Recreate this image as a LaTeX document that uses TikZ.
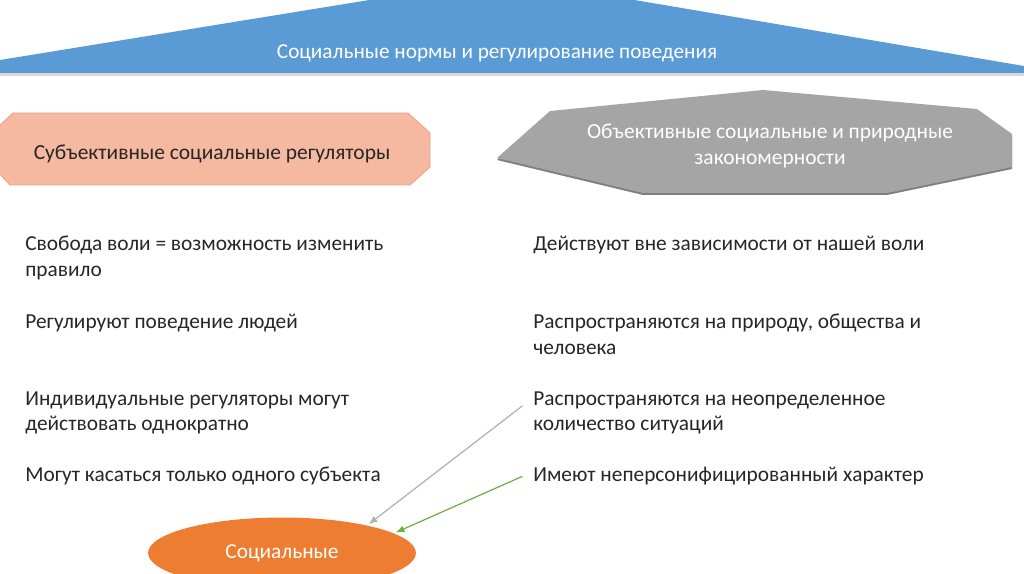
\documentclass[tikz,border=0pt]{standalone}
\usepackage{fontspec}
\setmainfont{Carlito}
\usetikzlibrary{positioning,arrows.meta,shapes.geometric}
\definecolor{hdrblue}{HTML}{5B9BD5}
\definecolor{subjfill}{HTML}{F5B8A0}
\definecolor{subjline}{HTML}{F0A286}
\definecolor{objfill}{HTML}{A5A5A5}
\definecolor{objshade}{HTML}{7F7F7F}
\definecolor{socorange}{HTML}{ED7D31}
\definecolor{bodytext}{HTML}{262626}
\definecolor{arrgray}{HTML}{B0B0B0}
\definecolor{arrgreen}{HTML}{70AD47}

\begin{document}
\begin{tikzpicture}[
  x=0.02cm, y=-0.02cm, >=Latex,
  item/.style={anchor=north west, align=left, inner sep=0pt, text=bodytext,
               font=\fontsize{12.15}{14.7}\selectfont},
  hdr/.style={align=center, inner sep=0pt, text=white,
              font=\fontsize{12.1}{14.7}\selectfont},
  lbl/.style={align=center, inner sep=0pt, font=\fontsize{12.2}{14.7}\selectfont},
  soc/.style={ellipse, fill=socorange, minimum width=5.36cm, minimum height=1.42cm,
              inner sep=0pt, text=white, font=\fontsize{12.15}{14}\selectfont},
  link/.style={-{Latex[length=5pt,width=4pt]}, line width=0.7pt, shorten >=1pt},
]
\clip (0,0) rectangle (1024,574);

% header banner
\fill[black!15] (0,62) -- (400,-3) -- (605,-3) -- (1024,68) -- (1024,76) -- (0,76) -- cycle;
\fill[hdrblue] (0,60) -- (400,-5) -- (605,-5) -- (1024,66) -- (1024,73) -- (0,73) -- cycle;
\node[hdr] (title) at (497,53) {Социальные нормы и регулирование поведения};

% two kinds of regulators
\fill[subjfill, draw=subjline, line width=0.5pt]
  (13,113) -- (408,113) -- (430,133) -- (430,167) -- (410,185) -- (10,185)
  -- (-2,172) -- (-2,127) -- cycle;
\node[lbl, text=bodytext] (subj) at (212,154) {Субъективные социальные регуляторы};

\fill[objshade] (497,160) -- (550,113) -- (763,92) -- (977,111) -- (1012,136)
  -- (1012,169) -- (887,195) -- (643,195) -- cycle;
\fill[objfill] (497,158) -- (550,111) -- (763,90) -- (977,109) -- (1012,134)
  -- (1012,167) -- (887,193) -- (643,193) -- cycle;
\node[lbl, text=white] (obj) at (770,146) {Объективные социальные и природные\\закономерности};

% left column
\node[item] (l1) at (25,236) {Свобода воли = возможность изменить\\правило};
\node[item] (l2) at (25,314) {Регулируют поведение людей};
\node[item] (l3) at (25,391) {Индивидуальные регуляторы могут\\действовать однократно};
\node[item] (l4) at (25,467) {Могут касаться только одного субъекта};

% right column
\node[item] (r1) at (533,236) {Действуют вне зависимости от нашей воли};
\node[item] (r2) at (533,314) {Распространяются на природу, общества и\\человека};
\node[item] (r3) at (533,391) {Распространяются на неопределенное\\количество ситуаций};
\node[item] (r4) at (533,467) {Имеют неперсонифицированный характер};

\node[soc] (social) at (282,553) {Социальные};

\draw[link, draw=arrgray] ([xshift=-6pt,yshift=4pt]r3.west) -- (social.18);
\draw[link, draw=arrgreen] ([xshift=-6pt]r4.west) -- (social.10);
\end{tikzpicture}
\end{document}
